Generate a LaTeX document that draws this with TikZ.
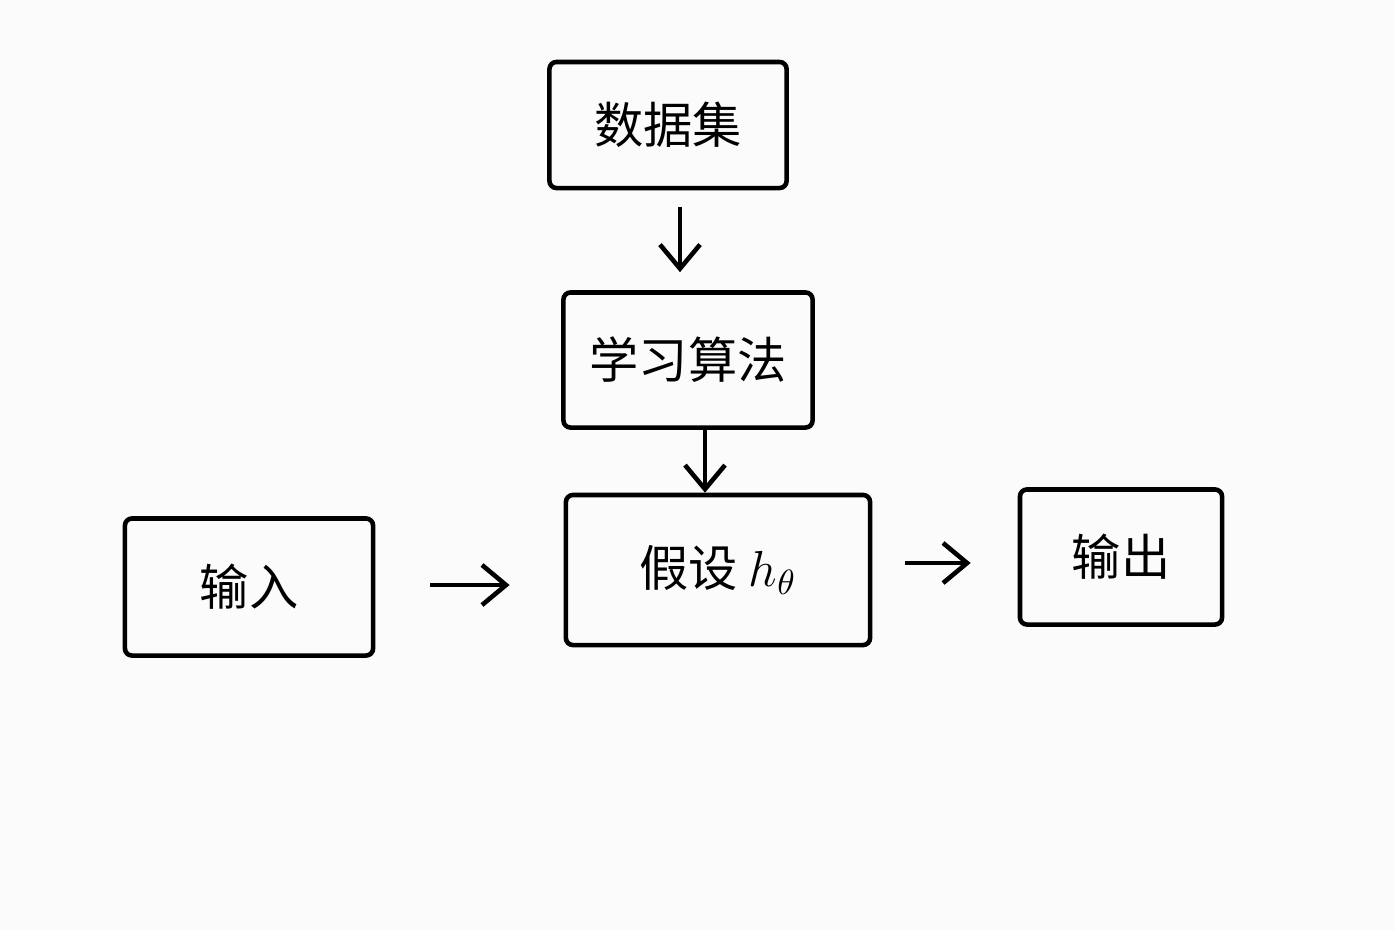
\documentclass[tikz,border=0pt]{standalone}
\usepackage{fontspec}
\newfontfamily\cjk{Noto Sans CJK SC}
\usetikzlibrary{arrows.meta}
\begin{document}
\begin{tikzpicture}[x=0.01cm,y=-0.01cm,
  box/.style={draw=black, line width=1.3pt, rounded corners=2pt, inner sep=0pt,
    font=\cjk\fontsize{14}{16}\selectfont},
  flow/.style={draw=black, line width=1.3pt, -{Straight Barb[length=2.4mm,width=4mm,line width=1.3pt]}}]
\fill[white!97!gray] (0,0) rectangle (1395,930);
\useasboundingbox (0,0) rectangle (1395,930);
\node[box, minimum width=2.37cm, minimum height=1.26cm] (data) at (668,125) {数据集};
\node[box, minimum width=2.49cm, minimum height=1.35cm] (algo) at (688,360) {学习算法};
\node[box, minimum width=3.04cm, minimum height=1.50cm] (hyp) at (718,570) {假设 $h_\theta$};
\node[box, minimum width=2.48cm, minimum height=1.37cm] (in) at (249,587) {输入};
\node[box, minimum width=2.02cm, minimum height=1.35cm] (out) at (1121,557) {输出};
\draw[flow, shorten <=0.17cm, shorten >=0.18cm] (data.south -| 680,0) -- (algo.north -| 680,0);
\draw[flow] (algo.south -| 705,0) -- (hyp.north -| 705,0);
\draw[flow, shorten <=0.55cm, shorten >=0.54cm] (in.east |- 0,585) -- (hyp.west |- 0,585);
\draw[flow, shorten <=0.33cm, shorten >=0.47cm] (hyp.east |- 0,563) -- (out.west |- 0,563);
\end{tikzpicture}
\end{document}
